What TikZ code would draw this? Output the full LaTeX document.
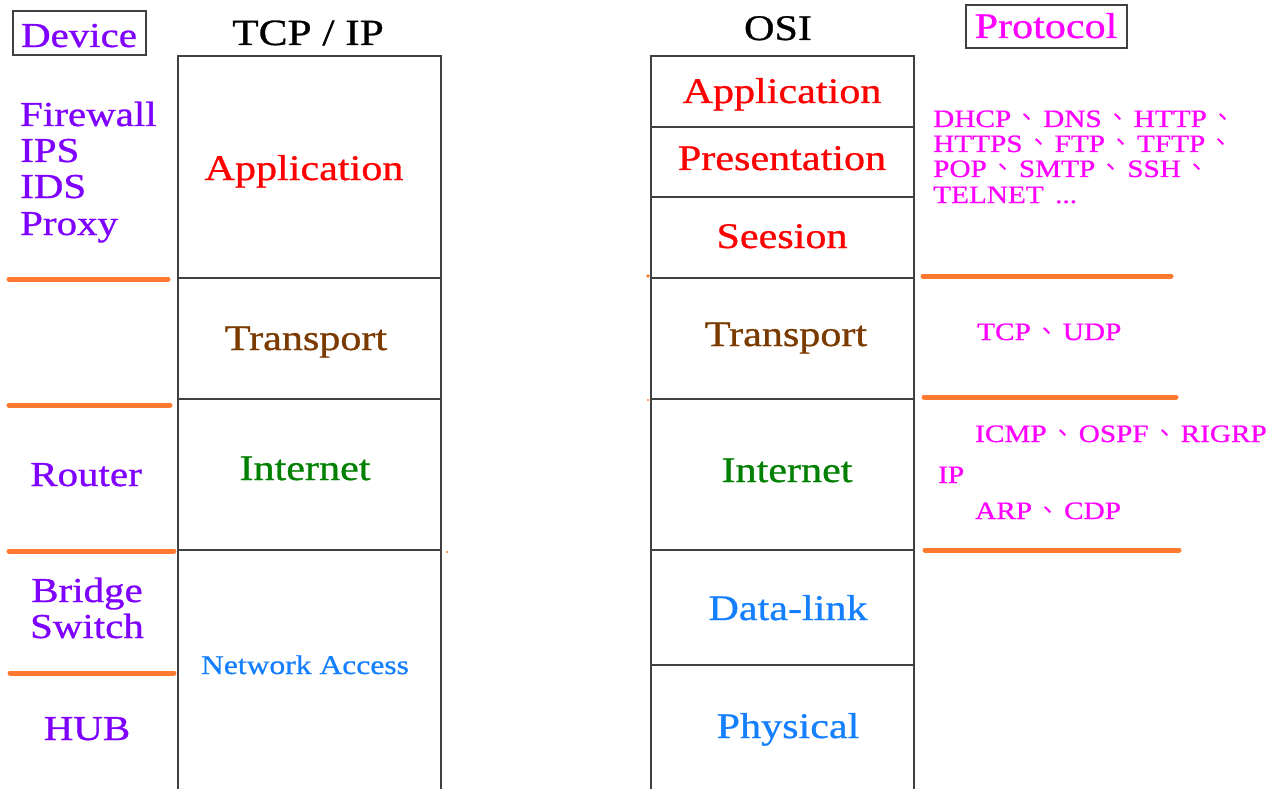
\documentclass[tikz,border=0pt]{standalone}
\usepackage{fontspec}
\setmainfont[FakeStretch=1.17,RawFeature={embolden=0.8}]{Liberation Serif}
\newfontfamily\cjk{Noto Sans CJK TC}
\newcommand{\dun}{\hspace{3.5pt}{\cjk 、}\hspace{3.5pt}}
\definecolor{devpurple}{HTML}{7F00FF}
\definecolor{lred}{HTML}{FF0000}
\definecolor{lbrown}{HTML}{7A3A00}
\definecolor{lgreen}{HTML}{008000}
\definecolor{lblue}{HTML}{1480FF}
\definecolor{pmag}{HTML}{FF00FF}
\definecolor{sep}{HTML}{FF7A30}
\definecolor{boxline}{HTML}{404040}
\begin{document}
\begin{tikzpicture}[x=1pt,y=-1pt,
  boxl/.style={draw=boxline,line width=2pt},
  sepl/.style={draw=sep,line width=5pt,line cap=round},
  tag/.style={draw=boxline,line width=2pt,inner sep=0pt},
  big/.style={anchor=base,inner sep=0pt,font=\fontsize{36}{36}\selectfont},
  dev/.style={big,text=devpurple,font=\fontsize{35}{36.5}\selectfont},
  proto/.style={anchor=base west,inner sep=0pt,text=pmag,font=\fontsize{25}{25.5}\selectfont}]
\useasboundingbox (0,0) rectangle (1272,789);
\fill[white] (0,0) rectangle (1272,789);

% header boxes
\draw[tag] (13,11) rectangle (146,55);
\node[dev] (device) at (79,47) {Device};
\draw[tag] (966,5) rectangle (1127,48);
\node[big,text=pmag] (protocol) at (1046,38) {Protocol};

% TCP/IP stack
\node[big,font=\fontsize{37}{37}\selectfont] (tcpip) at (308,45) {TCP / IP};
\draw[boxl] (178,789) -- (178,56) -- (441,56) -- (441,789);
\draw[boxl] (178,278) -- (441,278);
\draw[boxl] (178,399) -- (441,399);
\draw[boxl] (178,550) -- (441,550);
\node[big,text=lred] (tapp) at (304,180) {Application};
\node[big,text=lbrown] (ttra) at (306,350) {Transport};
\node[big,text=lgreen] (tint) at (305,480) {Internet};
\node[big,text=lblue,font=\fontsize{27}{27}\selectfont] (tnet) at (305,674) {Network Access};

% OSI stack
\node[big] (osi) at (778,40) {OSI};
\draw[boxl] (651,789) -- (651,56) -- (914,56) -- (914,789);
\foreach \yy in {127,197,278,399,550,665} \draw[boxl] (651,\yy) -- (914,\yy);
\node[big,text=lred] (oapp) at (782,103) {Application};
\node[big,text=lred] (opre) at (782,170) {Presentation};
\node[big,text=lred] (oses) at (782,248) {Seesion};
\node[big,text=lbrown] (otra) at (786,346) {Transport};
\node[big,text=lgreen] (oint) at (787,482) {Internet};
\node[big,text=lblue] (odat) at (788,620) {Data-link};
\node[big,text=lblue] (ophy) at (788,738) {Physical};

% devices
\node[dev,anchor=base west] (fw) at (20,126) {Firewall};
\node[dev,anchor=base west] (ips) at (20,162) {IPS};
\node[dev,anchor=base west] (ids) at (20,198) {IDS};
\node[dev,anchor=base west] (proxy) at (20,235) {Proxy};
\node[dev] (router) at (86,486) {Router};
\node[dev] (bridge) at (87,602) {Bridge};
\node[dev] (switch) at (87,638) {Switch};
\node[dev] (hub) at (87,740) {HUB};

% orange separators
\draw[sepl] (9,279) -- (168,279);
\draw[sepl] (9,405) -- (170,405);
\draw[sepl] (9,551) -- (174,551);
\draw[sepl] (10,673) -- (174,673);
\draw[sepl] (923,276) -- (1171,276);
\draw[sepl] (924,397) -- (1176,397);
\draw[sepl] (925,550) -- (1179,550);
\fill[sep] (648,276) circle (1.8);
\fill[sep] (648,400) circle (1.2);
\fill[sep] (447,552) circle (1.2);

% protocols
\node[proto] (p1) at (933,127) {DHCP\dun DNS\dun HTTP\dun};
\node[proto] (p2) at (933,152) {HTTPS\dun FTP\dun TFTP\dun};
\node[proto] (p3) at (933,177) {POP\dun SMTP\dun SSH\dun};
\node[proto] (p4) at (933,203) {TELNET \,...};
\node[proto] (p5) at (977,340) {TCP\dun UDP};
\node[proto] (p6) at (975,442) {ICMP\dun OSPF\dun RIGRP};
\node[proto] (p7) at (938,483) {IP};
\node[proto] (p8) at (975,519) {ARP\dun CDP};
\end{tikzpicture}
\end{document}
